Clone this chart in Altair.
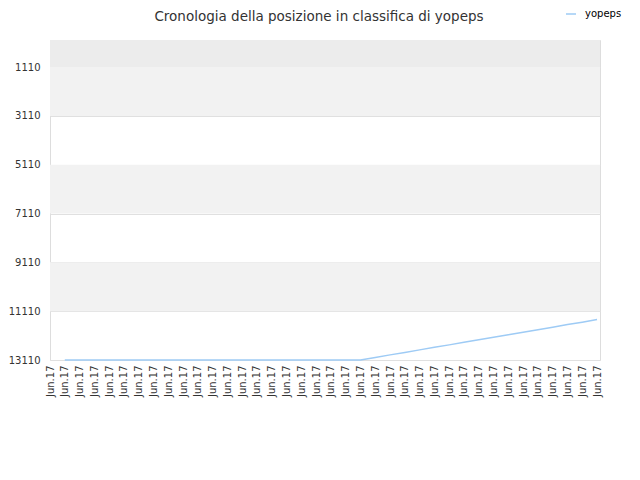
import altair as alt
import pandas as pd

# --- data ---
x_labels = ["Jun.17"] * 38
ranks = [None] + [13110] * 21 + [13005, 12900, 12800, 12695, 12590, 12490, 12385, 12280,
                                 12180, 12075, 11970, 11870, 11765, 11660, 11560, 11455]
series_name = "yopeps"
y_ticks = [1110, 3110, 5110, 7110, 9110, 11110, 13110]
band_start = [1, 1110, 5110, 9110]
band_end = [1110, 3110, 7110, 11110]
band_fill = ["#ececec", "#f2f2f2", "#f2f2f2", "#f2f2f2"]

df = pd.DataFrame({"idx": list(range(len(ranks))), "rank": ranks, "series": series_name})
bands_df = pd.DataFrame({"start": band_start, "end": band_end, "fill": band_fill})

W, H = 550, 320
label_expr = "[" + ",".join("'" + s + "'" for s in x_labels) + "][datum.value]"

yscale = alt.Scale(domain=[1, 13110], reverse=True, nice=False, zero=False)
yaxis = alt.Axis(values=y_ticks, grid=True, gridColor="#e0e0e0", ticks=False, domain=False,
                 title=None, labelPadding=10, labelFontSize=10, labelColor="#333333",
                 format="d")

bands = alt.Chart(bands_df).mark_rect().encode(
    x=alt.value(0), x2=alt.value(W),
    y=alt.Y("start:Q", scale=yscale, axis=yaxis),
    y2="end:Q",
    fill=alt.Fill("fill:N", scale=None),
)

line = alt.Chart(df).mark_line(strokeWidth=1.5).encode(
    x=alt.X("idx:Q", scale=alt.Scale(domain=[0, 37.2], nice=False, zero=False),
            axis=alt.Axis(values=list(range(len(x_labels))), labelExpr=label_expr, labelAngle=270,
                          ticks=False, grid=False, domain=False, title=None, labelFontSize=10,
                          labelColor="#333333", labelFlush=False, labelOverlap=False,
                          labelPadding=5)),
    y=alt.Y("rank:Q", scale=yscale, axis=yaxis),
    color=alt.Color("series:N", scale=alt.Scale(domain=[series_name], range=["#9ecbf5"]),
                    legend=alt.Legend(title=None, orient="none", legendX=515, legendY=-32,
                                      symbolType="stroke", symbolStrokeWidth=1.5, symbolSize=100,
                                      labelFontSize=10, labelColor="#000000", labelOffset=8,
                                      padding=0)),
)

chart = alt.layer(bands, line).properties(
    width=W, height=H,
    title=alt.TitleParams("Cronologia della posizione in classifica di yopeps", fontSize=13.5,
                          fontWeight="normal", color="#333333", offset=-15, anchor="middle",
                          dx=-6),
    autosize=alt.AutoSizeParams(type="none"),
    padding={"left": 42, "top": 32, "right": 30, "bottom": 100},
).configure(font="DejaVu Sans", background="white").configure_view(stroke="#dddddd")

chart.save("out.html", embed_options={"renderer": "svg", "actions": False})
